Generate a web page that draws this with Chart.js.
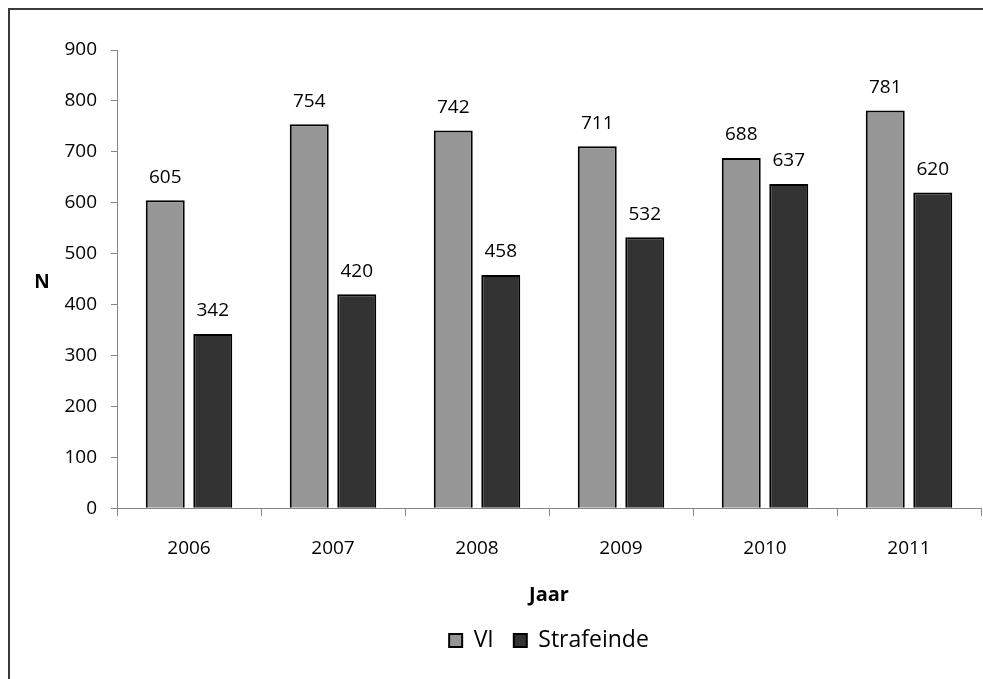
<!DOCTYPE html>
<html>
<head>
<meta charset="utf-8">
<script src="https://cdn.jsdelivr.net/npm/chart.js@4"></script>
<style>
  html, body { margin: 0; padding: 0; background: #fff; }
  #wrap { position: relative; width: 983px; height: 679px; overflow: hidden; }
  #frame { position: absolute; left: 8px; top: 8px; width: 1000px; height: 700px;
           border-left: 2px solid #3a3a3a; border-top: 2px solid #3a3a3a; }
  canvas { position: absolute; left: 0; top: 0; }
</style>
</head>
<body>
<div id="wrap">
  <div id="frame"></div>
  <canvas id="chart" width="983" height="679"></canvas>
</div>
<script>
// jaren en aantallen
const jaren      = ['2006', '2007', '2008', '2009', '2010', '2011'];
const vi         = [605, 754, 742, 711, 688, 781];
const strafeinde = [342, 420, 458, 532, 637, 620];
const yTicks     = [0, 100, 200, 300, 400, 500, 600, 700, 800, 900];

const FONT = 'Open Sans';
const AXIS = '#868686';

// waardes boven de staven + "N" links
const labelsPlugin = {
  id: 'labels',
  afterLayout(chart) {
    // legenda gecentreerd onder het plotgebied i.p.v. het hele canvas
    const lg = chart.legend;
    const a = chart.chartArea;
    const shift = (a.left + a.right) / 2 - (lg.left + lg.right) / 2;
    lg.left += shift;
    lg.right += shift;
  },
  afterDatasetsDraw(chart) {
    const ctx = chart.ctx;
    ctx.save();
    ctx.font = '19px "' + FONT + '"';
    ctx.fillStyle = '#000';
    ctx.textAlign = 'center';
    ctx.textBaseline = 'middle';
    chart.data.datasets.forEach((ds, i) => {
      chart.getDatasetMeta(i).data.forEach((el, j) => {
        ctx.fillText(String(ds.data[j]), el.x, el.y - 23);
      });
    });
    const a = chart.chartArea;
    ctx.font = 'bold 19px "' + FONT + '"';
    ctx.fillText('N', 42, (a.top + a.bottom) / 2 + 3);
    ctx.restore();
  }
};

new Chart(document.getElementById('chart'), {
  type: 'bar',
  data: {
    labels: jaren,
    datasets: [
      { label: 'VI', data: vi, backgroundColor: '#969696', borderColor: '#000', borderWidth: 2 },
      { label: 'Strafeinde', data: strafeinde, backgroundColor: '#333333', borderColor: '#000', borderWidth: 2 }
    ]
  },
  options: {
    responsive: false,
    devicePixelRatio: 1,
    animation: false,
    categoryPercentage: 0.66,
    barPercentage: 0.82,
    layout: { padding: { top: 50, left: 0, right: 2, bottom: 17 } },
    plugins: {
      legend: {
        position: 'bottom',
        labels: { color: '#000', font: { family: FONT, size: 23 }, boxWidth: 13, boxHeight: 13, padding: 20 }
      },
      tooltip: { enabled: false }
    },
    scales: {
      x: {
        grid: { offset: true, drawOnChartArea: false, tickLength: 8, color: AXIS },
        border: { color: AXIS },
        ticks: { color: '#000', font: { family: FONT, size: 19 }, padding: 21 },
        title: { display: true, text: 'Jaar', color: '#000', font: { family: FONT, size: 20, weight: 'bold' }, padding: { top: 2, bottom: 2 } }
      },
      y: {
        min: 0, max: 900,
        afterFit: s => { s.width = 117; },
        afterBuildTicks: s => { s.ticks = yTicks.map(v => ({ value: v })); },
        grid: { drawOnChartArea: false, tickLength: 6, color: AXIS },
        border: { color: AXIS },
        ticks: { color: '#000', font: { family: FONT, size: 19 }, padding: 14 }
      }
    }
  },
  plugins: [labelsPlugin]
});
</script>
</body>
</html>
